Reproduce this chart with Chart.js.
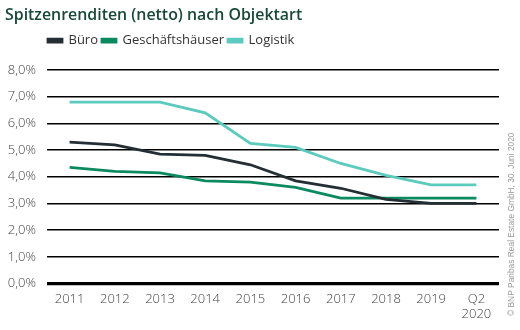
<!DOCTYPE html>
<html><head><meta charset="utf-8">
<script src="https://cdn.jsdelivr.net/npm/chart.js@4"></script>
<style>html,body{margin:0;padding:0;background:#fff}#wrap{position:relative;width:520px;height:330px}</style>
</head><body><div id="wrap"><canvas id="c" width="520" height="330"></canvas></div>
<script>
const categories = ['2011','2012','2013','2014','2015','2016','2017','2018','2019',['Q2','2020']];
const bueroValues = [5.3, 5.2, 4.85, 4.8, 4.45, 3.85, 3.57, 3.15, 3.0, 3.0];
const geschaeftshaeuserValues = [4.35, 4.2, 4.15, 3.85, 3.8, 3.6, 3.2, 3.2, 3.2, 3.2];
const logistikValues = [6.8, 6.8, 6.8, 6.4, 5.25, 5.1, 4.5, 4.05, 3.7, 3.7];
const seriesNames = ['Büro', 'Geschäftshäuser', 'Logistik'];
const titleText = 'Spitzenrenditen (netto) nach Objektart';
const sourceText = '© BNP Paribas Real Estate GmbH, 30. Juni 2020';

const FONT = "'Open Sans', sans-serif";

const tweak = {
  id: 'tweak',
  afterLayout(chart) {
    chart.legend.left = 44;
    chart.legend.top -= 13;
    chart.titleBlock.left = 5;
  },
  afterDraw(chart) {
    const ctx = chart.ctx;
    ctx.save();
    ctx.translate(512, 316);
    ctx.rotate(-Math.PI / 2);
    ctx.font = "8.4px 'Liberation Sans Narrow', 'Liberation Sans', sans-serif";
    ctx.fillStyle = '#9a9a9a';
    ctx.textAlign = 'left';
    ctx.textBaseline = 'middle';
    ctx.fillText(sourceText, 0, 0);
    ctx.restore();
  }
};

new Chart(document.getElementById('c'), {
  type: 'line',
  data: {
    labels: categories,
    datasets: [
      { label: seriesNames[0], data: bueroValues, borderColor: '#232e35', backgroundColor: '#232e35' },
      { label: seriesNames[1], data: geschaeftshaeuserValues, borderColor: '#0a8a5e', backgroundColor: '#0a8a5e' },
      { label: seriesNames[2], data: logistikValues, borderColor: '#5ccabd', backgroundColor: '#5ccabd' }
    ]
  },
  options: {
    responsive: false,
    animation: false,
    layout: { padding: { left: 0, right: 21, top: 0, bottom: 0 } },
    elements: {
      line: { borderWidth: 2.8, tension: 0 },
      point: { radius: 0 }
    },
    plugins: {
      title: {
        display: true, text: titleText, align: 'start',
        color: '#17483a',
        font: { family: FONT, size: 15.9, weight: '600' },
        padding: { top: 6, bottom: 18 }
      },
      legend: {
        display: true, align: 'start',
        labels: {
          color: '#333', boxWidth: 14, boxHeight: 3, padding: 4,
          font: { family: FONT, size: 13 }
        }
      },
      tooltip: { enabled: false }
    },
    scales: {
      x: {
        offset: true,
        afterFit(scale) { scale.height = 46.5; },
        grid: { display: false, drawTicks: false },
        border: { display: false },
        ticks: { color: '#444', font: { family: FONT, size: 13, weight: '300' }, padding: 7.5, maxRotation: 0, autoSkip: false }
      },
      y: {
        min: 0, max: 8,
        afterFit(scale) { scale.width = 47; },
        grid: {
          color: '#000',
          lineWidth: (c) => (c.tick && c.tick.value === 0 ? 3.2 : 1.5),
          drawTicks: false
        },
        border: { display: false },
        ticks: {
          stepSize: 1, color: '#444', padding: 11,
          font: { family: FONT, size: 13, weight: '300' },
          callback: (v) => v.toFixed(1).replace('.', ',') + '%'
        }
      }
    }
  },
  plugins: [tweak]
});
</script></body></html>
